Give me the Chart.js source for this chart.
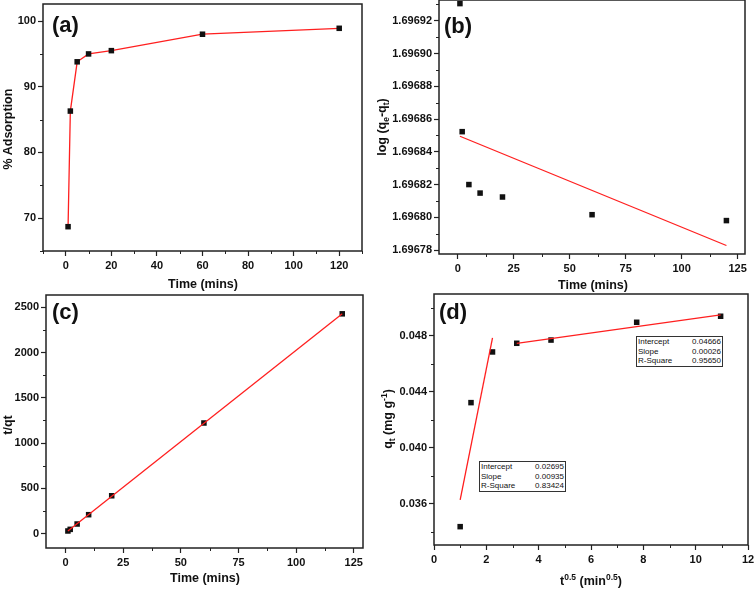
<!DOCTYPE html>
<html>
<head>
<meta charset="utf-8">
<script src="https://cdn.jsdelivr.net/npm/chart.js@4.4.0/dist/chart.umd.min.js"></script>
<style>
  body { margin:0; background:#fff; }
  #fig { position:relative; width:756px; height:589px; overflow:hidden; font-family:"Liberation Sans", Arial, sans-serif; color:#111; }
  canvas { position:absolute; }
  .lbl { position:absolute; font-weight:bold; font-size:22px; line-height:1; }
  .ttl { position:absolute; font-weight:bold; font-size:12.5px; white-space:nowrap; transform:translate(-50%,-50%); }
  .ttl.rot { transform:translate(-50%,-50%) rotate(-90deg); }
  .ttl sub, .ttl sup { font-size:0.68em; }
  .fit { position:absolute; border:1px solid #333; font-size:8px; line-height:9.6px; background:#fff; }
  .fit div { display:flex; justify-content:space-between; padding:0 1px; }
</style>
</head>
<body>
<div id="fig">
  <canvas id="ca" width="376" height="290" style="left:0;top:0"></canvas>
  <canvas id="cb" width="380" height="294" style="left:376px;top:-4px"></canvas>
  <canvas id="cc" width="376" height="299" style="left:0;top:290px"></canvas>
  <canvas id="cd" width="380" height="299" style="left:376px;top:290px"></canvas>

  <div class="lbl" style="left:52px;top:14px">(a)</div>
  <div class="lbl" style="left:444px;top:15px">(b)</div>
  <div class="lbl" style="left:52px;top:301px">(c)</div>
  <div class="lbl" style="left:439px;top:301px">(d)</div>

  <div class="ttl rot" style="left:8px;top:129px">% Adsorption</div>
  <div class="ttl" style="left:203px;top:284px">Time (mins)</div>
  <div class="ttl rot" style="left:383px;top:127px">log (q<sub>e</sub>-q<sub>t</sub>)</div>
  <div class="ttl" style="left:593px;top:285px">Time (mins)</div>
  <div class="ttl rot" style="left:8px;top:425px">t/qt</div>
  <div class="ttl" style="left:205px;top:578px">Time (mins)</div>
  <div class="ttl rot" style="left:388px;top:419px">q<sub>t</sub> (mg g<sup>-1</sup>)</div>
  <div class="ttl" style="left:591px;top:580px">t<sup>0.5</sup> (min<sup>0.5</sup>)</div>

  <div class="fit" style="left:636px;top:336px;width:85px">
    <div><span>Intercept</span><span>0.04666</span></div>
    <div><span>Slope</span><span>0.00026</span></div>
    <div><span>R-Square</span><span>0.95650</span></div>
  </div>
  <div class="fit" style="left:479px;top:461px;width:85px">
    <div><span>Intercept</span><span>0.02695</span></div>
    <div><span>Slope</span><span>0.00935</span></div>
    <div><span>R-Square</span><span>0.83424</span></div>
  </div>
</div>
<script>
// (a) % adsorption vs time
const timeMin = [1, 2, 5, 10, 20, 60, 120];
const adsorption = [68.7, 86.3, 93.8, 95.0, 95.5, 98.0, 98.9];
// (b) pseudo first order
const logQ = [1.6969305, 1.6968523, 1.6968200, 1.6968148, 1.6968124, 1.6968016, 1.6967980];
const logFitX = [1, 120];
const logFitY = [1.6968495, 1.6967828];
// (c) pseudo second order
const tOverQt = [29, 47, 106, 209, 418, 1222, 2428];
const tqFitX = [1, 120];
const tqFitY = [28, 2430];
// (d) intraparticle diffusion
const sqrtT = [1, 1.414, 2.236, 3.162, 4.472, 7.746, 10.954];
const qt = [0.03438, 0.04324, 0.04686, 0.04748, 0.04771, 0.04898, 0.04941];
const fit1X = [1, 2.236];
const fit1Y = [0.03630, 0.04786];
const fit2X = [3.162, 10.954];
const fit2Y = [0.04748, 0.04951];

// tick labels
const ticksAx = [0, 20, 40, 60, 80, 100, 120];
const minorAx = [-10, 10, 30, 50, 70, 90, 110, 130];
const ticksAy = [70, 80, 90, 100];
const minorAy = [65, 75, 85, 95];
const ticksTime = [0, 25, 50, 75, 100, 125];
const minorTime = [12.5, 37.5, 62.5, 87.5, 112.5];
const ticksBy = [1.69678, 1.6968, 1.69682, 1.69684, 1.69686, 1.69688, 1.6969, 1.69692];
const minorBy = [1.69679, 1.69681, 1.69683, 1.69685, 1.69687, 1.69689, 1.69691, 1.69693];
const ticksCy = [0, 500, 1000, 1500, 2000, 2500];
const minorCy = [250, 750, 1250, 1750, 2250];
const ticksDx = [0, 2, 4, 6, 8, 10, 12];
const minorDx = [1, 3, 5, 7, 9, 11];
const ticksDy = [0.036, 0.040, 0.044, 0.048];
const minorDy = [0.034, 0.038, 0.042, 0.046, 0.050];

const RED = '#ff1f1f';
const pts = (xs, ys) => xs.map((x, i) => ({x: x, y: ys[i]}));

// box frame + short minor ticks
const framePlugin = {
  id: 'frame',
  afterDraw(chart, args, opts) {
    const {ctx, chartArea: a, scales} = chart;
    ctx.save();
    ctx.strokeStyle = '#222';
    ctx.lineWidth = 1.5;
    ctx.strokeRect(a.left, a.top, a.right - a.left, a.bottom - a.top);
    ctx.lineWidth = 1;
    ctx.beginPath();
    (opts.minorX || []).forEach(v => {
      const px = Math.round(scales.x.getPixelForValue(v)) + 0.5;
      ctx.moveTo(px, a.bottom); ctx.lineTo(px, a.bottom + 3);
    });
    (opts.minorY || []).forEach(v => {
      const py = Math.round(scales.y.getPixelForValue(v)) + 0.5;
      ctx.moveTo(a.left, py); ctx.lineTo(a.left - 3, py);
    });
    ctx.stroke();
    ctx.restore();
  }
};

function axis(min, max, major, fmt, size, horizontal) {
  return {
    type: 'linear', min: min, max: max,
    afterBuildTicks: s => { s.ticks = major.map(v => ({value: v})); },
    afterFit: s => {
      if (horizontal) s.height = size; else s.width = size;
      s.paddingTop = 0; s.paddingBottom = 0; s.paddingLeft = 0; s.paddingRight = 0;
    },
    ticks: {
      font: {family: 'Liberation Sans', size: 11, weight: 'bold'},
      color: '#111', padding: horizontal ? 3 : 2, autoSkip: false, maxRotation: 0,
      callback: fmt
    },
    grid: {drawOnChartArea: false, tickLength: 5, tickColor: '#222', tickWidth: 1.2},
    border: {display: false}
  };
}

function makeChart(id, datasets, xAx, yAx, pad, minorX, minorY) {
  return new Chart(document.getElementById(id), {
    type: 'scatter',
    data: {datasets: datasets},
    options: {
      responsive: false, animation: false,
      layout: {padding: pad},
      scales: {x: xAx, y: yAx},
      plugins: {legend: {display: false}, tooltip: {enabled: false}, frame: {minorX: minorX, minorY: minorY}}
    },
    plugins: [framePlugin]
  });
}

const markers = (xs, ys) => ({
  data: pts(xs, ys), showLine: false, pointStyle: 'rect', pointRadius: 3.9,
  pointBackgroundColor: '#111', pointBorderColor: '#111', pointBorderWidth: 0
});
const fitLine = (xs, ys) => ({
  data: pts(xs, ys), showLine: true, pointRadius: 0, borderColor: RED, borderWidth: 1.3
});
const plain = v => String(v);

// (a)
makeChart('ca', [
  Object.assign(markers(timeMin, adsorption), {showLine: true, borderColor: RED, borderWidth: 1.3})
], axis(-10, 130, ticksAx, plain, 39, true), axis(65, 102.6, ticksAy, plain, 43, false),
  {top: 3, right: 14, left: 0, bottom: 0}, minorAx, minorAy);

// (b)
makeChart('cb', [
  fitLine(logFitX, logFitY), markers(timeMin, logQ)
], axis(-8.35, 128.3, ticksTime, plain, 36, true),
  axis(1.6967776, 1.6969327, ticksBy, v => v.toFixed(5), 63, false),
  {top: 2, right: 11, left: 0, bottom: 0}, minorTime, minorBy);

// (c)
makeChart('cc', [
  fitLine(tqFitX, tqFitY), markers(timeMin, tOverQt)
], axis(-8.5, 129, ticksTime, plain, 41, true), axis(-159, 2636, ticksCy, plain, 46, false),
  {top: 5, right: 13, left: 0, bottom: 0}, minorTime, minorCy);

// (d)
makeChart('cd', [
  fitLine(fit1X, fit1Y), fitLine(fit2X, fit2Y), markers(sqrtT, qt)
], axis(0, 12, ticksDx, plain, 44, true), axis(0.03307, 0.0510, ticksDy, v => v.toFixed(3), 58, false),
  {top: 4, right: 8, left: 0, bottom: 0}, minorDx, minorDy);
</script>
</body>
</html>
